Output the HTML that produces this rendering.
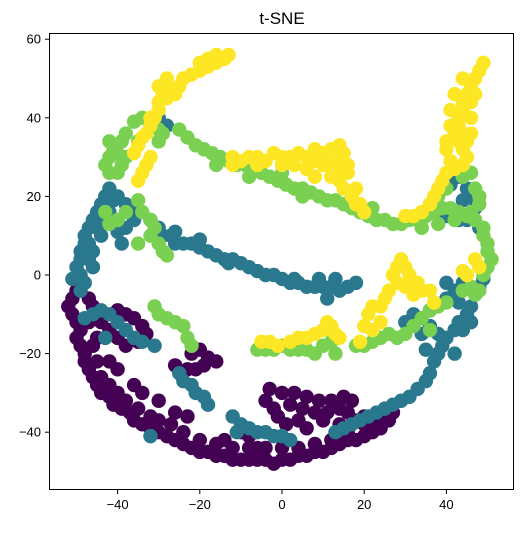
<!DOCTYPE html>
<html><head><meta charset="utf-8"><style>
body{margin:0;background:#fff;width:523px;height:529px;overflow:hidden}
svg{font-family:"Liberation Sans","DejaVu Sans",sans-serif}
</style></head><body>
<svg id="chart" width="523" height="529" xmlns="http://www.w3.org/2000/svg">
<text x="282" y="24" text-anchor="middle" font-size="17">t-SNE</text>
<g id="marks"></g>
<rect x="49.5" y="33.5" width="464" height="456" fill="none" stroke="#000" stroke-width="1"/>
<g id="xt"></g>
<g id="yt"></g>
</svg>
<script>
const xTicks=[-40,-20,0,20,40];
const yTicks=[-40,-20,0,20,40,60];
const colors=["#440154","#2a788e","#7ad151","#fde725"];
const purple=[[-49,-2],[-50,-4],[-51,-6],[-52,-8],[-51,-10],[-50,-12],[-49,-14],[-50,-16],[-49,-18],[-48,-20],[-48,-22],[-47,-24],[-46,-26],[-45,-28],[-44,-30],[-42,-31],[-41,-33],[-39,-34],[-37,-35],[-36,-37],[-34,-38],[-32,-39],[-30,-40],[-28,-41],[-26,-42],[-24,-43],[-22,-44],[-20,-45],[-18,-45],[-16,-46],[-14,-46],[-12,-47],[-10,-47],[-8,-47],[-6,-47],[-4,-47],[-2,-48],[0,-47],[2,-47],[4,-46],[6,-46],[8,-45],[10,-45],[12,-44],[14,-43],[16,-42],[18,-42],[20,-41],[22,-40],[24,-39],[26,-37],[27,-35],[-46,-18],[-45,-22],[-44,-26],[-42,-28],[-40,-30],[-38,-32],[-35,-34],[-32,-36],[-30,-37],[-27,-38],[-24,-40],[-20,-42],[-16,-43],[-12,-44],[-8,-44],[-4,-44],[0,-44],[4,-44],[8,-43],[12,-42],[16,-40],[20,-38],[24,-36],[-40,-9],[-38,-10],[-36,-11],[-34,-13],[-33,-15],[-35,-17],[-38,-18],[-40,-16],[-42,-14],[-44,-12],[-46,-8],[-47,-6],[-22,-20],[-20,-19],[-18,-21],[-19,-23],[-21,-24],[-23,-24],[-26,-23],[-16,-22],[-26,-35],[-23,-36],[-3,-29],[0,-30],[3,-30],[6,-31],[9,-32],[12,-32],[15,-31],[17,-32],[-4,-32],[-2,-34],[2,-33],[5,-34],[8,-35],[11,-35],[14,-34],[4,-37],[6,-39],[-10,-40],[-8,-41],[-14,-42],[-6,-44],[14,-38],[18,-37],[20,-36],[22,-37],[24,-35],[26,-34],[-1,-36],[1,-38],[10,-37],[16,-35],[-45,-16],[-47,-12],[-42,-22],[-40,-24],[-36,-28],[-34,-30],[-30,-32]];
const teal=[[-42,22],[-43,20],[-44,18],[-45,16],[-46,14],[-47,12],[-48,10],[-48,8],[-49,6],[-49,4],[-50,2],[-49,0],[-48,-2],[-49,-4],[-51,-1],[-45,12],[-43,15],[-41,19],[-40,20],[-38,18],[-37,16],[-38,12],[-40,11],[-36,14],[-39,8],[-46,-10],[-44,-9],[-42,-10],[-40,-12],[-38,-14],[-36,-16],[-34,-17],[-31,-18],[-43,-16],[-48,-11],[-32,14],[-30,12],[-29,10],[-27,10],[-26,8],[-24,8],[-22,8],[-20,7],[-18,6],[-16,5],[-14,4],[-12,4],[-10,3],[-8,2],[-6,1],[-4,0],[-2,0],[0,-1],[2,-2],[4,-2],[6,-3],[8,-3],[10,-3],[12,-3],[14,-4],[16,-3],[18,-2],[-20,9],[-26,11],[-13,3],[3,-1],[9,-1],[13,-1],[11,-6],[-25,-25],[-24,-27],[-22,-28],[-21,-30],[-19,-31],[-18,-33],[-32,-41],[-12,-36],[-10,-38],[-8,-39],[-6,-40],[-4,-40],[-2,-41],[0,-41],[2,-42],[-11,-40],[49,-1],[48,-3],[47,-5],[46,-8],[45,-10],[43,-12],[42,-14],[40,-16],[39,-18],[38,-20],[37,-22],[36,-25],[35,-27],[33,-29],[31,-31],[29,-32],[27,-33],[25,-34],[23,-35],[21,-36],[19,-37],[17,-38],[15,-39],[13,-40],[30,-12],[32,-10],[34,-11],[36,-13],[38,-15],[36,-9],[40,-6],[42,-4],[44,-2],[40,-2],[42,-20],[35,-19],[34,-15],[44,-14],[46,-12],[43,-7],[41,23],[43,25],[45,22],[46,20],[44,19],[47,17],[48,12],[45,14],[43,14],[40,15],[-30,40],[-28,38],[-37,17],[-46,2],[-47,8],[-46,6],[-47,4],[-44,10],[-42,16]];
const green=[[-42,34],[-41,32],[-42,30],[-43,28],[-42,26],[-40,26],[-39,28],[-38,30],[-40,31],[-39,34],[-38,36],[-36,39],[-34,40],[-32,38],[-30,37],[-29,36],[-30,34],[-35,34],[-25,37],[-23,35],[-21,33],[-19,32],[-17,31],[-15,30],[-13,29],[-11,28],[-9,28],[-7,27],[-5,26],[-3,25],[-1,24],[1,23],[3,22],[5,22],[7,21],[9,20],[11,19],[13,19],[15,18],[17,17],[19,16],[21,15],[23,14],[25,14],[27,13],[29,13],[31,14],[33,14],[35,15],[37,16],[39,17],[41,17],[43,16],[45,15],[47,14],[-8,25],[0,26],[-16,28],[5,20],[22,17],[34,12],[38,13],[42,14],[46,16],[47,22],[48,20],[48,18],[49,12],[49,10],[50,8],[50,6],[51,4],[50,2],[49,0],[48,-4],[44,25],[46,26],[40,22],[38,20],[36,18],[-40,14],[-38,16],[-35,19],[-34,16],[-32,14],[-31,12],[-32,10],[-30,8],[-29,6],[-28,5],[-35,8],[-42,13],[-43,16],[-31,-8],[-30,-10],[-28,-11],[-26,-12],[-24,-13],[-23,-16],[-22,-18],[-6,-19],[-4,-19],[-2,-19],[0,-18],[2,-19],[4,-19],[6,-19],[8,-20],[10,-18],[12,-17],[13,-20],[18,-18],[20,-18],[22,-17],[24,-16],[26,-15],[28,-16],[30,-15],[32,-13],[34,-11],[36,-9],[38,-8],[40,-7],[36,-14],[44,-4],[46,-3],[47,-5]];
const yellow=[[-36,31],[-35,33],[-34,35],[-33,36],[-32,38],[-31,40],[-30,42],[-30,44],[-29,46],[-27,47],[-25,48],[-24,50],[-22,51],[-20,52],[-18,53],[-16,54],[-14,55],[-13,56],[-16,56],[-28,45],[-26,46],[-34,26],[-33,28],[-32,30],[-35,24],[-32,40],[-12,28],[-10,29],[-8,30],[-6,30],[-4,29],[-2,31],[0,30],[2,30],[4,31],[6,30],[8,29],[10,31],[12,32],[14,33],[15,31],[13,29],[11,28],[12,25],[14,24],[15,22],[17,20],[19,18],[20,16],[16,26],[18,22],[6,27],[8,25],[3,28],[49,54],[48,52],[47,50],[46,48],[45,46],[44,44],[44,42],[43,40],[43,38],[42,36],[44,36],[46,40],[46,44],[45,34],[44,32],[45,30],[44,28],[42,27],[40,26],[39,24],[38,22],[37,20],[36,18],[34,16],[32,15],[30,15],[40,34],[41,29],[29,4],[30,2],[31,0],[33,-2],[34,-4],[32,-5],[30,-3],[28,-2],[26,-4],[25,-6],[24,-8],[22,-8],[21,-10],[20,-13],[22,-14],[24,-12],[27,0],[28,2],[36,-4],[37,-7],[44,1],[45,0],[47,4],[48,2],[-5,-17],[-3,-17],[-1,-18],[2,-17],[4,-16],[6,-16],[8,-15],[10,-14],[12,-13],[13,-15],[14,-16],[11,-12],[19,-17],[41,42],[42,46],[44,50],[41,38],[40,32],[47,46],[43,34],[46,36],[-12,30],[-6,28],[0,28],[8,32],[10,28],[14,26],[16,28],[18,18],[-30,48],[-28,50],[-20,54],[-18,55]];
const sx=v=>282+v*4.11, sy=v=>275-v*3.93;
const NS="http://www.w3.org/2000/svg";
const marks=document.getElementById('marks');
[purple,teal,green,yellow].forEach((series,ci)=>{
  series.forEach(p=>{
    const c=document.createElementNS(NS,'circle');
    
    
    c.setAttribute('cx',sx(p[0]));c.setAttribute('cy',sy(p[1]));
    c.setAttribute('r',7.2);c.setAttribute('fill',colors[ci]);
    marks.appendChild(c);
  });
});
const xt=document.getElementById('xt');
xTicks.forEach(t=>{
  const x=sx(t);
  const l=document.createElementNS(NS,'line');
  
  
  l.setAttribute('x1',x);l.setAttribute('x2',x);l.setAttribute('y1',490);l.setAttribute('y2',494);l.setAttribute('stroke','#000');
  xt.appendChild(l);
  const tx=document.createElementNS(NS,'text');
  
  
  tx.setAttribute('x',x);tx.setAttribute('y',509);tx.setAttribute('text-anchor','middle');tx.setAttribute('font-size','13');
  tx.textContent=t<0?'\u2212'+(-t):t;
  xt.appendChild(tx);
});
const yt=document.getElementById('yt');
yTicks.forEach(t=>{
  const y=sy(t);
  const l=document.createElementNS(NS,'line');
  
  
  l.setAttribute('x1',45);l.setAttribute('x2',49);l.setAttribute('y1',y);l.setAttribute('y2',y);l.setAttribute('stroke','#000');
  yt.appendChild(l);
  const tx=document.createElementNS(NS,'text');
  
  
  tx.setAttribute('x',41);tx.setAttribute('y',y+4.5);tx.setAttribute('text-anchor','end');tx.setAttribute('font-size','13');
  tx.textContent=t<0?'\u2212'+(-t):t;
  yt.appendChild(tx);
});
</script>
</body></html>
